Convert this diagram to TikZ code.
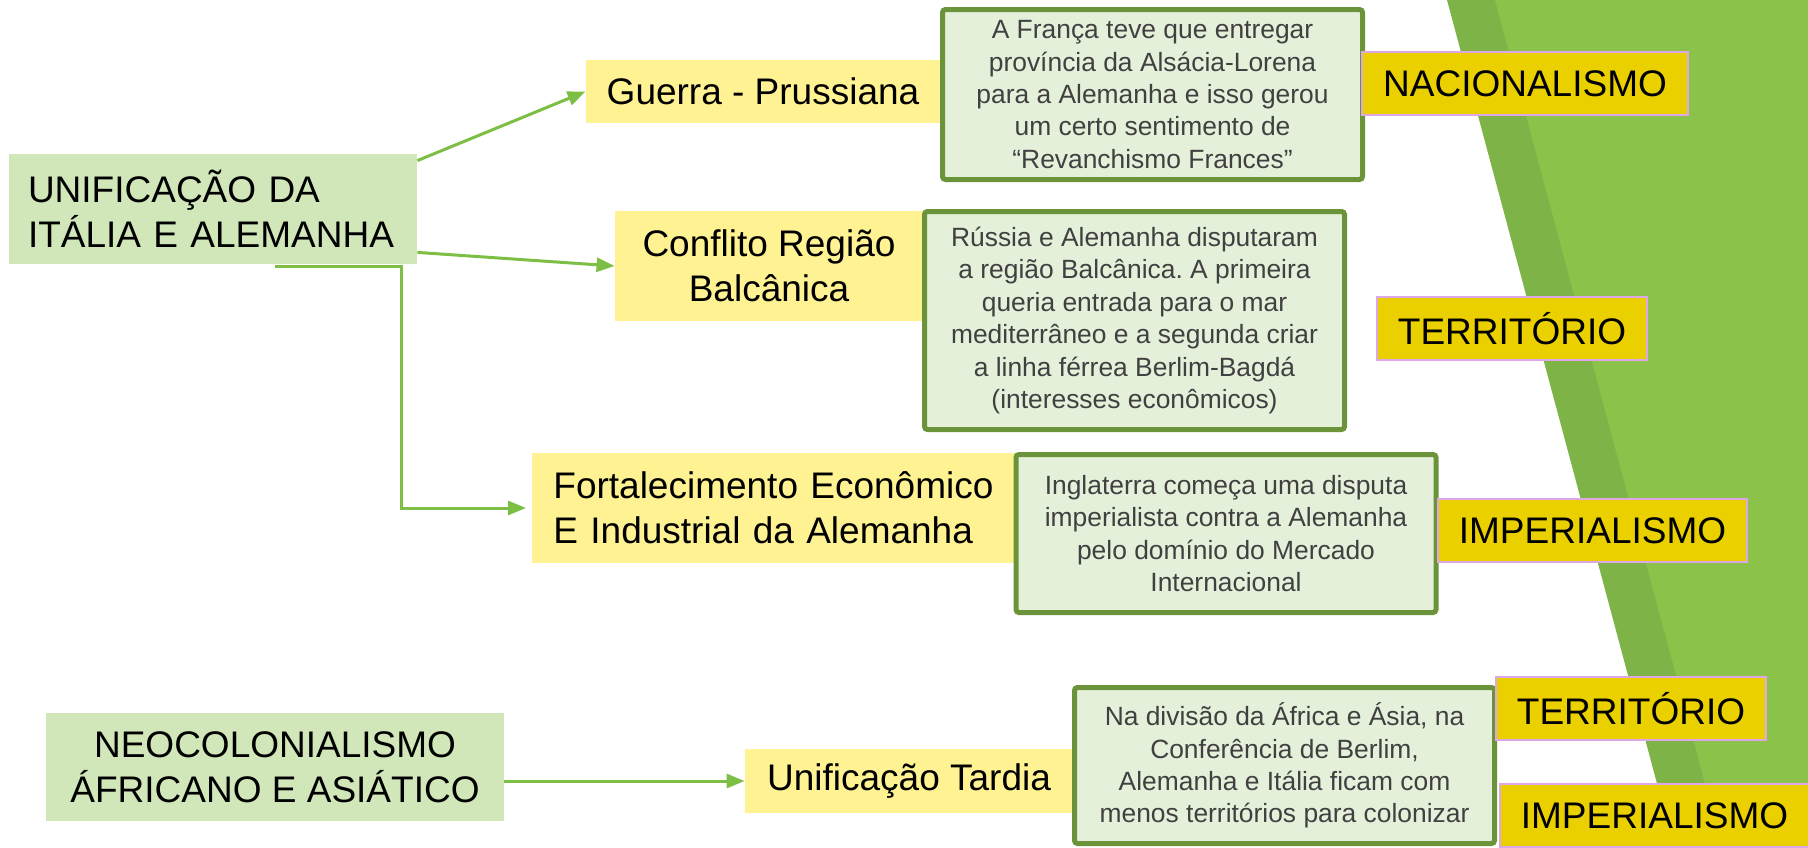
\documentclass[tikz,border=0pt]{standalone}
\usepackage{fontspec}
\setmainfont{Liberation Sans}
\usetikzlibrary{arrows.meta,calc}
\frenchspacing

\definecolor{mainfill}{HTML}{D1E7B9}
\definecolor{causefill}{HTML}{FFF292}
\definecolor{descfill}{HTML}{E5F0DA}
\definecolor{descborder}{HTML}{6B933A}
\definecolor{desctext}{HTML}{404040}
\definecolor{tagfill}{HTML}{EBD000}
\definecolor{tagborder}{HTML}{DDA6E6}
\definecolor{arrowgreen}{HTML}{7DBE45}
\definecolor{bandlight}{HTML}{8BC34A}
\definecolor{banddark}{HTML}{7DB347}

\begin{document}
\begin{tikzpicture}[x=0.5pt,y=-0.5pt,
  bigtext/.style={font=\fontsize{18.5}{22.5}\selectfont},
  mainbox/.style={bigtext,fill=mainfill,inner sep=0pt,align=center},
  causebox/.style={bigtext,fill=causefill,inner sep=0pt,align=center},
  descbox/.style={draw=descborder,line width=2.5pt,fill=descfill,rounded corners=1.5pt,
    inner sep=0pt,minimum width=210pt,align=center,text=desctext,
    font=\fontsize{13.2}{16.2}\selectfont},
  tagbox/.style={bigtext,draw=tagborder,line width=1pt,fill=tagfill,inner sep=0pt,
    minimum height=31.5pt}]
\def\bandTop{1447}
\def\bandWidth{48}
\useasboundingbox (0,0) rectangle (1808,847);

% green band
\fill[banddark] (\bandTop,0) -- (1808,0) -- (1808,847) -- (1674,847) -- cycle;
\fill[bandlight] (\bandTop+\bandWidth,0) -- (1808,0) -- (1808,847) -- (1674+\bandWidth,847) -- cycle;

\path
(213,209) node [mainbox,minimum width=204pt,minimum height=55pt,text width=185pt,
  inner xsep=9.5pt,align=left] (unif) {UNIFICAÇÃO DA\\ITÁLIA E ALEMANHA}
(275,767) node [mainbox,minimum width=229pt,minimum height=54pt] (neo)
  {NEOCOLONIALISMO\\ÁFRICANO E ASIÁTICO}
(763,91.5) node [causebox,minimum width=177pt,minimum height=31.5pt] (guerra) {Guerra - Prussiana}
(769,266) node [causebox,minimum width=154pt,minimum height=55pt] (conflito) {Conflito Região\\Balcânica}
(532,508) node [causebox,anchor=west,minimum height=55pt,text width=232pt,inner xsep=10.5pt,
  align=left] (fort) {Fortalecimento Econômico\\E Industrial da Alemanha}
(909,781) node [causebox,minimum width=164pt,minimum height=32pt] (tardia) {Unificação Tardia}
;

\begin{scope}[every path/.style={draw=arrowgreen,line width=1.5pt,
    -{Triangle[length=9pt,width=7pt]}}]
\path ([yshift=-3.5pt]unif.north east) -- (guerra.west);
\path ([yshift=6pt]unif.south east) -- (conflito.west);
\path ($(unif.south west)!0.652!(unif.south east)+(0,2)$) -- ++(126,0) |- ([xshift=-3pt]fort.west);
\path (neo.east |- tardia.west) -- (tardia.west);
\end{scope}

\path
(1152.5,94.5) node [descbox,minimum height=85pt] (franca)
  {A França teve que entregar\\província da Alsácia-Lorena\\para a Alemanha e isso gerou\\um certo sentimento de\\“Revanchismo Frances”}
(1134.5,320.5) node [descbox,minimum height=109pt] (russia)
  {Rússia e Alemanha disputaram\\a região Balcânica. A primeira\\queria entrada para o mar\\mediterrâneo e a segunda criar\\a linha férrea Berlim-Bagdá\\(interesses econômicos)}
(1226,533.5) node [descbox,minimum height=79pt] (ingl)
  {Inglaterra começa uma disputa\\imperialista contra a Alemanha\\pelo domínio do Mercado\\Internacional}
(1284.5,765.5) node [descbox,minimum height=78pt] (divisao)
  {Na divisão da África e Ásia, na\\Conferência de Berlim,\\Alemanha e Itália ficam com\\menos territórios para colonizar}
;

\path
(1525,83.5) node [tagbox,minimum width=163pt] (nac) {NACIONALISMO}
(1512,328.5) node [tagbox,minimum width=135pt] (terrA) {TERRITÓRIO}
(1592.5,530.5) node [tagbox,minimum width=154.5pt] (impA) {IMPERIALISMO}
(1631,708.5) node [tagbox,minimum width=135pt] (terrB) {TERRITÓRIO}
(1654.5,815.5) node [tagbox,minimum width=154.5pt] (impB) {IMPERIALISMO}
;

\end{tikzpicture}
\end{document}
